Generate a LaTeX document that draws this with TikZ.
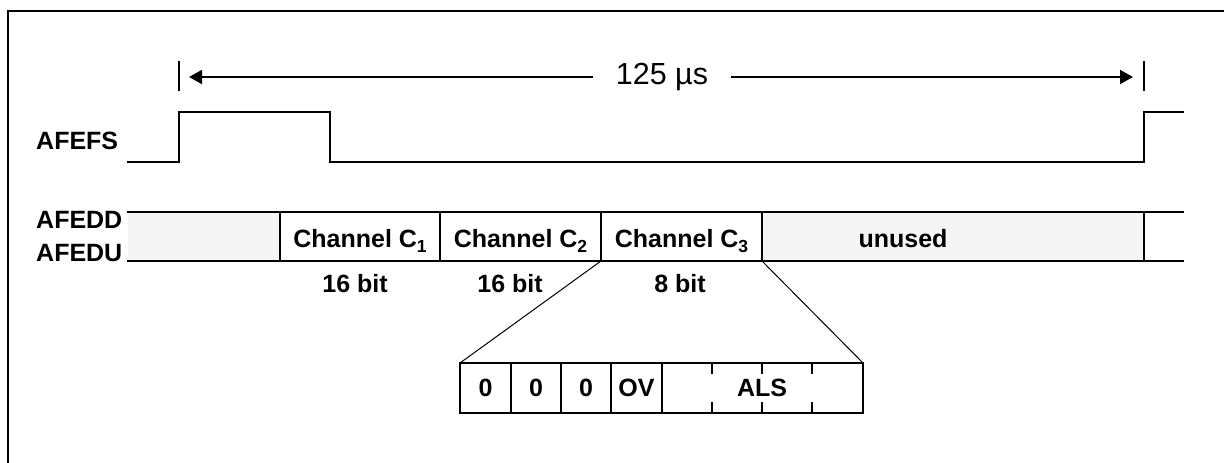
\documentclass[tikz,border=0pt]{standalone}
\usepackage{fontspec}
\setmainfont{Liberation Sans}
\usetikzlibrary{arrows.meta}
\tikzset{
  sig/.style={line width=2pt, line cap=rect},
  thinln/.style={line width=1pt},
  lab/.style={font=\fontsize{25}{30}\selectfont\bfseries, inner sep=0pt},
  idle/.style={fill=black!4, draw=none},
  tip/.style={-{Triangle[length=13pt,width=14pt]}, line width=2pt}
}
\newcommand{\sbx}[1]{\raisebox{-5pt}{\fontsize{17.5}{18}\selectfont #1}}
\begin{document}
\begin{tikzpicture}[x=1pt,y=-1pt]
\useasboundingbox (0,0) rectangle (1224,463);
% frame (partly outside the picture)
\draw[line width=2pt] (8,463) -- (8,11) -- (1224,11);

% period arrow
\node[font=\fontsize{30.5}{34}\selectfont, inner xsep=23pt, inner ysep=0pt] (per) at (662,77) {125 µs};
\coordinate (lt1) at (179,61); \coordinate (lt2) at (179,91);
\coordinate (rt1) at (1144,61); \coordinate (rt2) at (1144,91);
\coordinate (la) at (189,77); \coordinate (ra) at (1133,77);
\draw[line width=2pt] (lt1) -- (lt2);
\draw[line width=2pt] (rt1) -- (rt2);
\draw[tip] (per.west) -- (la);
\draw[tip] (per.east) -- (ra);

% AFEFS
\node[lab, anchor=base west] (fs) at (36,149) {AFEFS};
\draw[sig] (128,162) -- (179,162) -- (179,112) -- (330,112) -- (330,162) -- (1144,162) -- (1144,112) -- (1183,112);

% bus
\fill[idle] (128,212) rectangle (280,261);
\fill[idle] (762,212) rectangle (1144,261);
\draw[sig] (128,212) -- (1183,212);
\draw[sig] (128,261) -- (1183,261);
\foreach \x in {280,440,601,762,1144} \draw[sig] (\x,212) -- (\x,261);
\node[lab, anchor=base west] (dd) at (36,228) {AFEDD};
\node[lab, anchor=base west] (du) at (36,261) {AFEDU};

\node[lab, anchor=base] (c1) at (360,247) {Channel C\sbx{1}};
\node[lab, anchor=base] (c2) at (520.5,247) {Channel C\sbx{2}};
\node[lab, anchor=base] (c3) at (681.5,247) {Channel C\sbx{3}};
\node[lab, anchor=base] (un) at (903,247) {unused};

\node[lab, anchor=base] (b1) at (355,292) {16 bit};
\node[lab, anchor=base] (b2) at (510,292) {16 bit};
\node[lab, anchor=base] (b3) at (680,292) {8 bit};

% expansion of channel C3
\coordinate (c3l) at (601,261); \coordinate (c3r) at (762,261);
\coordinate (bl) at (460,363); \coordinate (br) at (863,363);
\draw[thinln] (c3l) -- (bl);
\draw[thinln] (c3r) -- (br);
\draw[sig] (460,363) rectangle (863,413);
\foreach \x in {511,561,611,662} \draw[sig] (\x,363) -- (\x,413);
\foreach \x in {712,762,812} {
  \draw[sig] (\x,363) -- (\x,373);
  \draw[sig] (\x,403) -- (\x,413);
}
\node[lab, anchor=base] (z1) at (485.5,396) {0};
\node[lab, anchor=base] (z2) at (536,396) {0};
\node[lab, anchor=base] (z3) at (586,396) {0};
\node[lab, anchor=base] (ov) at (636.5,396) {OV};
\node[lab, anchor=base] (als) at (762,396) {ALS};
\end{tikzpicture}
\end{document}
